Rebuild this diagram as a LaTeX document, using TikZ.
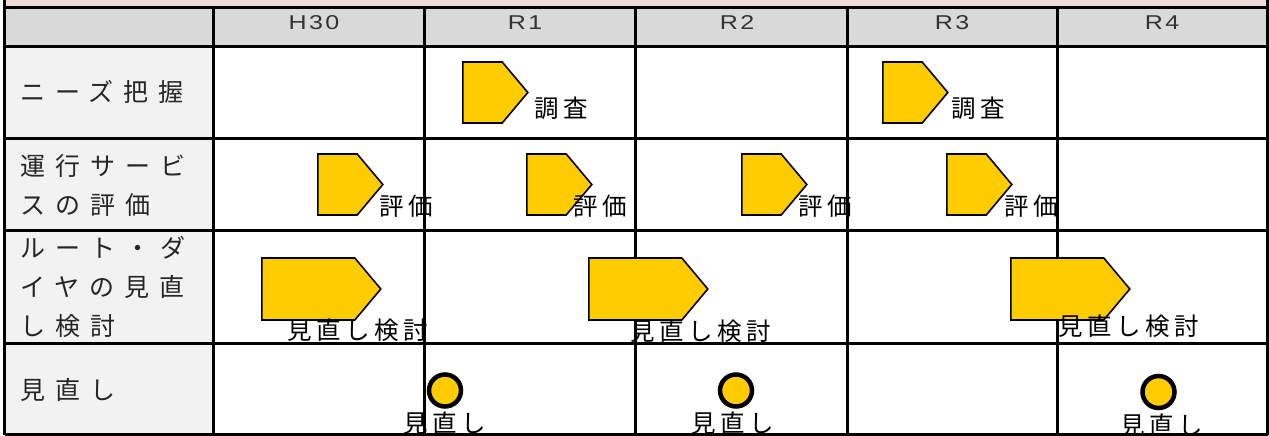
\documentclass[tikz,border=0pt]{standalone}
\usepackage{fontspec}
\setmainfont{Noto Sans CJK JP}
\newfontfamily\jpwide[LetterSpace=40]{Noto Sans CJK JP}
\newfontfamily\jpmid[LetterSpace=18]{Noto Sans CJK JP}
\newfontfamily\yearfont[FakeStretch=1.25, LetterSpace=12]{Liberation Sans}
\usepackage{tikz}
\usetikzlibrary{shapes.symbols}

\definecolor{bandpink}{HTML}{F2DCDB}
\definecolor{headgray}{HTML}{D9D9D9}
\definecolor{sidegray}{HTML}{F2F2F2}
\definecolor{planyellow}{HTML}{FFCC00}

\begin{document}
\begin{tikzpicture}[
    x=1pt, y=-1pt,
    gridline/.style={line width=3pt, black},
    yearlabel/.style={font=\yearfont\fontsize{20}{20}\selectfont, text=black!80},
    itemlabel/.style={anchor=west, align=left, inner sep=0pt, font=\jpwide\fontsize{25}{39}\selectfont, text=black!85},
    plan/.style={signal, signal to=east, signal pointer angle=100, draw=black, line width=1.6pt, fill=planyellow, inner sep=0pt, minimum width=65pt, minimum height=61pt, anchor=west},
    longplan/.style={plan, minimum width=119pt, minimum height=62pt},
    review/.style={circle, draw=black, line width=4.5pt, fill=planyellow, inner sep=0pt, minimum size=32pt},
    planlabel/.style={font=\jpmid\fontsize{24.5}{24.5}\selectfont, inner sep=0pt}
]
    \useasboundingbox (0,0) rectangle (1269,436);
    \clip (0,0) rectangle (1269,436);

    % table background
    \fill[bandpink] (4.7,0) rectangle (1267.5,7.7);
    \fill[headgray] (4.7,7.7) rectangle (1267.5,47);
    \fill[sidegray] (4.7,47) rectangle (213,434.7);

    % table rules
    \draw[gridline] (4.7,0) -- (4.7,434.7);
    \draw[gridline] (1267.5,0) -- (1267.5,434.7);
    \draw[gridline] (4.7,7.7) -- (1267.5,7.7);
    \draw[gridline] (4.7,47) -- (1267.5,47);
    \draw[gridline] (4.7,138) -- (1267.5,138);
    \draw[gridline] (4.7,230) -- (1267.5,230);
    \draw[gridline] (4.7,343) -- (1267.5,343);
    \draw[gridline] (4.7,434.7) -- (1267.5,434.7);
    \draw[gridline] (213,7.7) -- (213,434.7);
    \draw[gridline] (424,7.7) -- (424,434.7);
    \draw[gridline] (635,7.7) -- (635,434.7);
    \draw[gridline] (847,7.7) -- (847,434.7);
    \draw[gridline] (1057,7.7) -- (1057,434.7);

    % years
    \node[yearlabel] (h30) at (314,22.5) {H30};
    \node[yearlabel] (r1) at (525,22.5) {R1};
    \node[yearlabel] (r2) at (737,22.5) {R2};
    \node[yearlabel] (r3) at (952,22.5) {R3};
    \node[yearlabel] (r4) at (1162,22.5) {R4};

    % items
    \node[itemlabel] (needs) at (20,92) {ニーズ把握};
    \node[itemlabel] (service) at (20,185) {運行サービ\\スの評価};
    \node[itemlabel] (route) at (20,287) {ルート・ダ\\イヤの見直\\し検討};
    \node[itemlabel] (revise) at (20,390) {見直し};

    % needs survey
    \node[plan] (survey1) at (462,92.5) {};
    \node[plan] (survey3) at (882,92.5) {};
    \node[planlabel] (survey1txt) at (561,108) {調査};
    \node[planlabel] (survey3txt) at (978,108) {調査};

    % service evaluation
    \node[plan] (eval0) at (317,184.5) {};
    \node[plan] (eval1) at (526,184.5) {};
    \node[plan] (eval2) at (741,184.5) {};
    \node[plan] (eval3) at (946,184.5) {};
    \node[planlabel] (eval0txt) at (406,206.5) {評価};
    \node[planlabel] (eval1txt) at (600,206.5) {評価};
    \node[planlabel] (eval2txt) at (825,206.5) {評価};
    \node[planlabel] (eval3txt) at (1031,206.5) {評価};

    % route and timetable study
    \node[longplan] (study0) at (261,289) {};
    \node[longplan] (study1) at (588,289) {};
    \node[longplan] (study3) at (1010,289) {};
    \node[planlabel] (study0txt) at (357.5,330) {見直し検討};
    \node[planlabel] (study1txt) at (701,331.5) {見直し検討};
    \node[planlabel] (study3txt) at (1129,326.5) {見直し検討};

    % revisions
    \node[review] (rev1) at (445,390.5) {};
    \node[review] (rev2) at (736,390.5) {};
    \node[review] (rev4) at (1158.5,392) {};
    \node[planlabel] (rev1txt) at (445,423) {見直し};
    \node[planlabel] (rev2txt) at (733,423) {見直し};
    \node[planlabel] (rev4txt) at (1162,425) {見直し};
\end{tikzpicture}
\end{document}
